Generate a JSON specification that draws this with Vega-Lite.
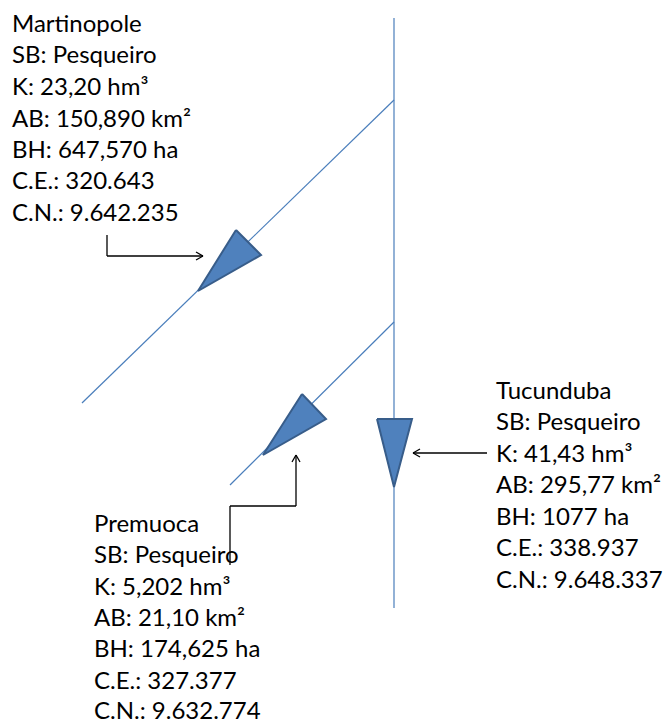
{
  "$schema": "https://vega.github.io/schema/vega-lite/v6.json",
  "width": 663,
  "height": 722,
  "padding": 0,
  "autosize": "none",
  "background": "white",
  "config": {"view": {"stroke": null}},
  "datasets": {
    "rivers": [
      {"x": 394, "y": 18, "x2": 394, "y2": 608},
      {"x": 394, "y": 100, "x2": 82, "y2": 403},
      {"x": 394, "y": 322, "x2": 230, "y2": 485}
    ],
    "arrows": [
      {"x": 107, "y": 235, "x2": 107, "y2": 256},
      {"x": 107, "y": 256, "x2": 203, "y2": 256},
      {"x": 203, "y": 256, "x2": 196, "y2": 252},
      {"x": 203, "y": 256, "x2": 196, "y2": 260},
      {"x": 230, "y": 565, "x2": 230, "y2": 506},
      {"x": 230, "y": 506, "x2": 296, "y2": 506},
      {"x": 296, "y": 506, "x2": 296, "y2": 455},
      {"x": 296, "y": 455, "x2": 292, "y2": 462},
      {"x": 296, "y": 455, "x2": 300, "y2": 462},
      {"x": 487, "y": 453, "x2": 413, "y2": 453},
      {"x": 413, "y": 453, "x2": 420, "y2": 449},
      {"x": 413, "y": 453, "x2": 420, "y2": 457}
    ],
    "tris": [
      {"id": "Martinopole", "i": 0, "x": 236, "y": 230},
      {"id": "Martinopole", "i": 1, "x": 261, "y": 255},
      {"id": "Martinopole", "i": 2, "x": 198, "y": 291},
      {"id": "Martinopole", "i": 3, "x": 236, "y": 230},
      {"id": "Premuoca", "i": 0, "x": 302, "y": 394},
      {"id": "Premuoca", "i": 1, "x": 326, "y": 419},
      {"id": "Premuoca", "i": 2, "x": 263, "y": 455},
      {"id": "Premuoca", "i": 3, "x": 302, "y": 394},
      {"id": "Tucunduba", "i": 0, "x": 377, "y": 419},
      {"id": "Tucunduba", "i": 1, "x": 412, "y": 419},
      {"id": "Tucunduba", "i": 2, "x": 394, "y": 487},
      {"id": "Tucunduba", "i": 3, "x": 377, "y": 419}
    ],
    "labels": [
      {"x": 12, "y": 32, "t": "Martinopole"},
      {"x": 12, "y": 63, "t": "SB: Pesqueiro"},
      {"x": 12, "y": 95, "t": "K: 23,20 hm³"},
      {"x": 12, "y": 127, "t": "AB: 150,890 km²"},
      {"x": 12, "y": 158, "t": "BH: 647,570 ha"},
      {"x": 12, "y": 189, "t": "C.E.: 320.643"},
      {"x": 12, "y": 221, "t": "C.N.: 9.642.235"},
      {"x": 496, "y": 399, "t": "Tucunduba"},
      {"x": 496, "y": 430, "t": "SB: Pesqueiro"},
      {"x": 496, "y": 462, "t": "K: 41,43 hm³"},
      {"x": 496, "y": 493, "t": "AB: 295,77 km²"},
      {"x": 496, "y": 525, "t": "BH: 1077 ha"},
      {"x": 496, "y": 556, "t": "C.E.: 338.937"},
      {"x": 496, "y": 588, "t": "C.N.: 9.648.337"},
      {"x": 94, "y": 532, "t": "Premuoca"},
      {"x": 94, "y": 563, "t": "SB: Pesqueiro"},
      {"x": 94, "y": 595, "t": "K: 5,202 hm³"},
      {"x": 94, "y": 626, "t": "AB: 21,10 km²"},
      {"x": 94, "y": 657, "t": "BH: 174,625 ha"},
      {"x": 94, "y": 689, "t": "C.E.: 327.377"},
      {"x": 94, "y": 719, "t": "C.N.: 9.632.774"}
    ]
  },
  "layer": [
    {
      "data": {"name": "rivers"},
      "mark": {"type": "rule", "color": "#4A7EBB", "strokeWidth": 1.2},
      "encoding": {
        "x": {"field": "x", "type": "quantitative", "scale": {"domain": [0, 663]}, "axis": null},
        "y": {"field": "y", "type": "quantitative", "scale": {"domain": [0, 722], "reverse": true}, "axis": null},
        "x2": {"field": "x2"},
        "y2": {"field": "y2"}
      }
    },
    {
      "data": {"name": "arrows"},
      "mark": {"type": "rule", "color": "#000000", "strokeWidth": 1.3},
      "encoding": {
        "x": {"field": "x", "type": "quantitative", "scale": {"domain": [0, 663]}, "axis": null},
        "y": {"field": "y", "type": "quantitative", "scale": {"domain": [0, 722], "reverse": true}, "axis": null},
        "x2": {"field": "x2"},
        "y2": {"field": "y2"}
      }
    },
    {
      "data": {"name": "tris"},
      "mark": {"type": "line", "fill": "#4F81BD", "stroke": "#385D8A", "strokeWidth": 2, "strokeJoin": "miter"},
      "encoding": {
        "x": {"field": "x", "type": "quantitative", "scale": {"domain": [0, 663]}, "axis": null},
        "y": {"field": "y", "type": "quantitative", "scale": {"domain": [0, 722], "reverse": true}, "axis": null},
        "detail": {"field": "id"},
        "order": {"field": "i", "type": "quantitative"}
      }
    },
    {
      "data": {"name": "labels"},
      "mark": {"type": "text", "align": "left", "baseline": "alphabetic", "font": "Lato", "fontSize": 24, "color": "#000000"},
      "encoding": {
        "x": {"field": "x", "type": "quantitative", "scale": {"domain": [0, 663]}, "axis": null},
        "y": {"field": "y", "type": "quantitative", "scale": {"domain": [0, 722], "reverse": true}, "axis": null},
        "text": {"field": "t"}
      }
    }
  ]
}
